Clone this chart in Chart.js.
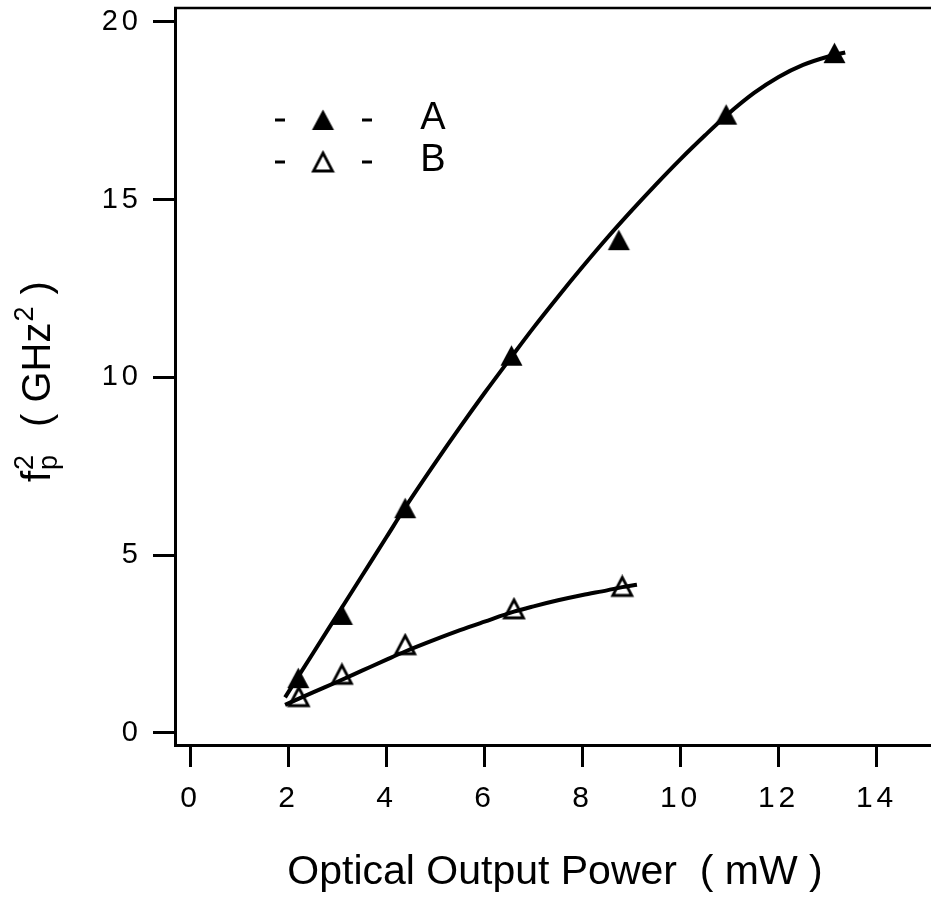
<!DOCTYPE html>
<html lang="en">
<head>
<meta charset="UTF-8">
<title>fp² vs Optical Output Power</title>
<script src="https://cdn.jsdelivr.net/npm/chart.js"></script>
<style>
  html, body { margin: 0; padding: 0; background: #fff; overflow: hidden; }
  canvas { display: block; }
</style>
</head>
<body>
<canvas id="fpChart" width="931" height="898"></canvas>
<script>
// measured points: laser A (filled triangles) and laser B (open triangles)
const powerA = [2.20, 3.09, 4.38, 6.55, 8.74, 10.93, 13.14];
const fp2A   = [1.54, 3.32, 6.32, 10.61, 13.86, 17.39, 19.12];
const powerB = [2.21, 3.09, 4.38, 6.60, 8.81];
const fp2B   = [1.02, 1.65, 2.48, 3.49, 4.12];

// fitted curves through each set
const fitPowerA = [1.93, 2.5, 3.0, 3.5, 4.0, 4.38, 5.0, 5.5, 6.0, 6.54, 7.0, 7.5, 8.0, 8.5, 9.0, 9.5, 10.0, 10.5, 10.93, 11.5, 12.0, 12.5, 13.0, 13.36];
const fitA      = [1.00, 2.24, 3.33, 4.42, 5.51, 6.34, 7.61, 8.60, 9.56, 10.56, 11.40, 12.27, 13.11, 13.92, 14.69, 15.43, 16.14, 16.81, 17.36, 18.00, 18.45, 18.79, 19.02, 19.14];
const fitPowerB = [1.93, 2.5, 3.0, 3.5, 4.0, 4.38, 5.0, 5.5, 6.0, 6.6, 7.0, 7.5, 8.0, 8.5, 8.81, 9.11];
const fitB      = [0.79, 1.14, 1.44, 1.75, 2.06, 2.29, 2.63, 2.89, 3.13, 3.41, 3.56, 3.73, 3.88, 4.01, 4.10, 4.17];

const xTicks = [0, 2, 4, 6, 8, 10, 12, 14];
const yTicks = [0, 5, 10, 15, 20];

const FONT = '"Liberation Sans", Arial, Helvetica, sans-serif';

function toXY(xs, ys) {
  return xs.map((x, i) => ({ x: x, y: ys[i] }));
}

// triangle marker images
function triangleMarker(filled) {
  const c = document.createElement('canvas');
  c.width = 25; c.height = 24;
  const g = c.getContext('2d');
  g.beginPath();
  if (filled) {
    g.moveTo(12.5, 1.5);
    g.lineTo(23.5, 22);
    g.lineTo(1.5, 22);
  } else {
    g.moveTo(12.5, 3);
    g.lineTo(22, 21);
    g.lineTo(3, 21);
  }
  g.closePath();
  if (filled) {
    g.fillStyle = '#000';
    g.fill();
  } else {
    g.fillStyle = '#fff';
    g.fill();
    g.lineWidth = 2.8;
    g.lineJoin = 'miter';
    g.strokeStyle = '#000';
    g.stroke();
  }
  return c;
}
const markA = triangleMarker(true);
const markB = triangleMarker(false);

// fixed plot box: no extra room kept for edge labels
function noPadding(s) {
  s.paddingTop = 0;
  s.paddingBottom = 0;
  s.paddingLeft = 0;
  s.paddingRight = 0;
}

const decorations = {
  id: 'decorations',
  beforeDraw(chart) {
    // spaced digits on the tick labels
    chart.ctx.letterSpacing = '4px';
  },
  afterDraw(chart) {
    const ctx = chart.ctx;
    const area = chart.chartArea;
    ctx.letterSpacing = '0px';
    ctx.save();
    ctx.strokeStyle = '#000';
    ctx.fillStyle = '#000';

    // top edge of the frame
    ctx.lineWidth = 2.5;
    ctx.beginPath();
    ctx.moveTo(area.left - 1, area.top);
    ctx.lineTo(chart.width, area.top);
    ctx.stroke();

    // legend
    const rows = [
      { y: 120, mark: markA, label: 'A' },
      { y: 162, mark: markB, label: 'B' }
    ];
    ctx.lineWidth = 3;
    ctx.font = '38px ' + FONT;
    ctx.textAlign = 'center';
    ctx.textBaseline = 'middle';
    rows.forEach(r => {
      ctx.beginPath();
      ctx.moveTo(275, r.y); ctx.lineTo(285, r.y);
      ctx.moveTo(362, r.y); ctx.lineTo(372, r.y);
      ctx.stroke();
      ctx.drawImage(r.mark, 323 - r.mark.width / 2, r.y - r.mark.height / 2);
      ctx.fillText(r.label, 433, r.y - 1);
    });

    // x axis title
    ctx.font = '41px ' + FONT;
    ctx.textAlign = 'center';
    ctx.textBaseline = 'alphabetic';
    ctx.fillText('Optical Output Power  ( mW )', 555, 884);

    // y axis title, rotated, with sub/superscripts
    ctx.translate(50, 482);
    ctx.rotate(-Math.PI / 2);
    ctx.textAlign = 'left';
    ctx.font = '40px ' + FONT;
    ctx.fillText('f', 0, 0);
    ctx.font = '27px ' + FONT;
    ctx.fillText('p', 12, 7);
    ctx.fillText('2', 12, -17);
    ctx.font = '40px ' + FONT;
    const part = '( GHz';
    ctx.fillText(part, 55, 0);
    const w = ctx.measureText(part).width;
    ctx.font = '27px ' + FONT;
    ctx.fillText('2', 55 + w + 1, -17);
    const w2 = ctx.measureText('2').width;
    ctx.font = '40px ' + FONT;
    ctx.fillText(' )', 55 + w + w2 + 2, 0);

    ctx.restore();
  }
};

const ctx = document.getElementById('fpChart').getContext('2d');
new Chart(ctx, {
  type: 'scatter',
  data: {
    datasets: [
      {
        label: 'A fit',
        data: toXY(fitPowerA, fitA),
        showLine: true,
        borderColor: '#000',
        borderWidth: 4,
        pointRadius: 0,
        cubicInterpolationMode: 'monotone'
      },
      {
        label: 'B fit',
        data: toXY(fitPowerB, fitB),
        showLine: true,
        borderColor: '#000',
        borderWidth: 4,
        pointRadius: 0,
        cubicInterpolationMode: 'monotone'
      },
      {
        label: 'A',
        data: toXY(powerA, fp2A),
        showLine: false,
        pointStyle: markA
      },
      {
        label: 'B',
        data: toXY(powerB, fp2B),
        showLine: false,
        pointStyle: markB
      }
    ]
  },
  options: {
    responsive: false,
    animation: false,
    layout: { autoPadding: false, padding: { top: 8, right: 0, left: 0, bottom: 0 } },
    plugins: {
      legend: { display: false },
      tooltip: { enabled: false }
    },
    scales: {
      x: {
        type: 'linear',
        min: -0.316,
        max: 15.11,
        afterFit: s => { s.height = 153; noPadding(s); },
        afterBuildTicks: s => { s.ticks = xTicks.map(v => ({ value: v })); },
        grid: {
          drawOnChartArea: false,
          drawTicks: true,
          tickLength: 22,
          tickWidth: 3,
          tickColor: '#000'
        },
        border: { display: true, color: '#000', width: 3 },
        ticks: {
          color: '#000',
          padding: 14,
          maxRotation: 0,
          autoSkip: false,
          font: { family: FONT, size: 30 }
        }
      },
      y: {
        type: 'linear',
        min: -0.34,
        max: 20.39,
        afterFit: s => { s.width = 175; noPadding(s); },
        afterBuildTicks: s => { s.ticks = yTicks.map(v => ({ value: v })); },
        grid: {
          drawOnChartArea: false,
          drawTicks: true,
          tickLength: 22,
          tickWidth: 3,
          tickColor: '#000'
        },
        border: { display: true, color: '#000', width: 3 },
        ticks: {
          color: '#000',
          padding: 11,
          autoSkip: false,
          font: { family: FONT, size: 29 }
        }
      }
    }
  },
  plugins: [decorations]
});
</script>
</body>
</html>
